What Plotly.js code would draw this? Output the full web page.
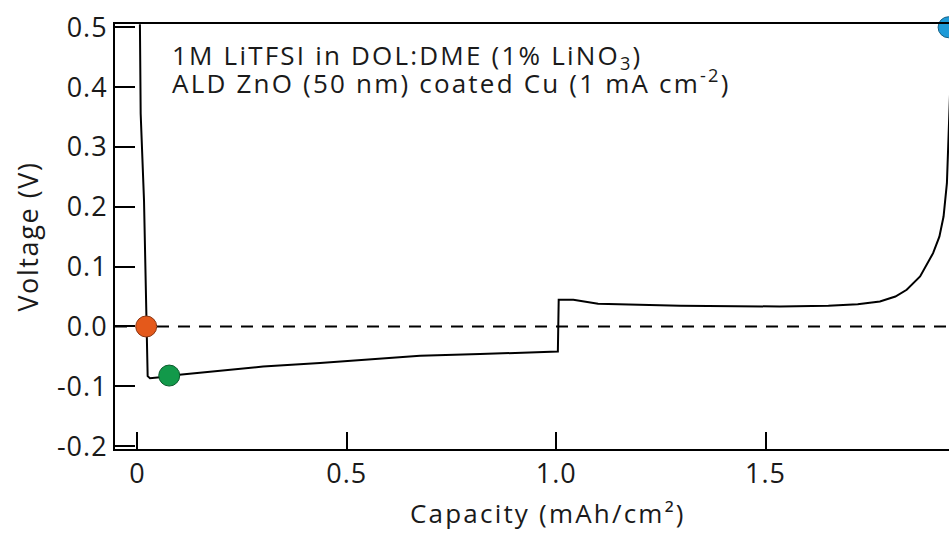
<!DOCTYPE html>
<html>
<head>
<meta charset="utf-8">
<script src="https://cdn.plot.ly/plotly-3.0.1.min.js"></script>
<style>
html, body { margin: 0; padding: 0; background: #fff; }
#chart { width: 949px; height: 533px; }
.annotation-text { letter-spacing: 2.2px; }
.xtick text, .ytick text { letter-spacing: 1px; }
.ytitle { letter-spacing: 1.6px; }
</style>
</head>
<body>
<div id="chart"></div>
<script>
// Galvanostatic curve
const capacity = [0.006, 0.0065, 0.0078, 0.0158, 0.0198, 0.022, 0.0245, 0.030, 0.054, 0.076,
  0.10, 0.20, 0.30, 0.436, 0.55, 0.675, 0.818, 0.90, 1.004,
  1.006, 1.041, 1.10, 1.296, 1.534, 1.65, 1.72, 1.773, 1.81, 1.837, 1.869, 1.90, 1.915, 1.925, 1.933, 1.938, 1.942, 1.945];
const voltage = [0.505, 0.45, 0.356, 0.21, 0.10, 0.0, -0.083, -0.0865, -0.085, -0.082,
  -0.0806, -0.0735, -0.067, -0.061, -0.055, -0.049, -0.046, -0.044, -0.042,
  0.0446, 0.0446, 0.038, 0.0346, 0.0334, 0.0345, 0.037, 0.0417, 0.050, 0.0613, 0.0835, 0.1225, 0.150, 0.1837, 0.2394, 0.323, 0.42, 0.5];

// Highlighted points
const pointCapacity = [0.021, 0.076, 1.937];
const pointVoltage = [0.0, -0.082, 0.5];
const pointColors = ['#E4591B', '#12994A', '#1E9BD8'];
const pointEdges = ['#8a3410', '#0a5a2b', '#135f85'];

// Axis ticks
const xTickVals = [0, 0.5, 1.0, 1.5];
const xTickText = ['0', '0.5', '1.0', '1.5'];
const yTickVals = [-0.2, -0.1, 0.0, 0.1, 0.2, 0.3, 0.4, 0.5];
const yTickText = ['-0.2', '-0.1', '0.0', '0.1', '0.2', '0.3', '0.4', '0.5'];

const xTitle = 'Capacity (mAh/cm²)';
const yTitle = 'Voltage (V)';
const annotationLines = [
  '1M LiTFSI in DOL:DME (1% LiNO<sub>3</sub>)',
  'ALD ZnO (50 nm) coated Cu (1 mA cm<sup>-2</sup>)'
];

const FONT = 'Open Sans, Noto Sans, sans-serif';
const TXT = '#1a1a1a';

const traces = [
  {
    x: capacity, y: voltage, type: 'scatter', mode: 'lines',
    line: { color: '#000', width: 2 }, hoverinfo: 'skip', showlegend: false
  }
];
for (let i = 0; i < pointCapacity.length; i++) {
  traces.push({
    x: [pointCapacity[i]], y: [pointVoltage[i]], type: 'scatter', mode: 'markers',
    marker: { size: 21, color: pointColors[i], line: { color: pointEdges[i], width: 1 } },
    cliponaxis: false, showlegend: false, hoverinfo: 'skip'
  });
}

const layout = {
  width: 949, height: 533,
  margin: { l: 115, r: 0, t: 24, b: 84 },
  paper_bgcolor: '#fff', plot_bgcolor: '#fff',
  font: { family: FONT, size: 27, color: TXT },
  showlegend: false,
  xaxis: {
    range: [-0.0535, 1.938],
    showline: true, linecolor: '#000', linewidth: 2, mirror: true,
    ticks: 'inside', ticklen: 17, tickwidth: 2, tickcolor: '#000',
    tickvals: xTickVals, ticktext: xTickText,
    showgrid: false, zeroline: false,
    tickfont: { family: FONT, size: 27, color: TXT }
  },
  yaxis: {
    range: [-0.2047, 0.5054],
    showline: true, linecolor: '#000', linewidth: 2, mirror: false,
    ticks: 'inside', ticklen: 20, tickwidth: 2, tickcolor: '#000',
    tickvals: yTickVals, ticktext: yTickText,
    showgrid: false, zeroline: false,
    tickfont: { family: FONT, size: 27, color: TXT },
    title: { text: yTitle, font: { family: FONT, size: 27, color: TXT }, standoff: 10 }
  },
  shapes: [
    { type: 'line', xref: 'paper', x0: 0, x1: 1, yref: 'y', y0: 0, y1: 0,
      line: { color: '#000', width: 2, dash: '12px,9px' }, layer: 'below' }
  ],
  annotations: [
    { text: annotationLines[0], xref: 'paper', yref: 'paper', x: 0.066, y: 0.925,
      xanchor: 'left', yanchor: 'middle', showarrow: false, font: { family: FONT, size: 26, color: TXT } },
    { text: annotationLines[1], xref: 'paper', yref: 'paper', x: 0.066, y: 0.864,
      xanchor: 'left', yanchor: 'middle', showarrow: false, font: { family: FONT, size: 26, color: TXT } },
    { text: xTitle, xref: 'paper', yref: 'paper', x: 0.519, y: -0.15,
      xanchor: 'center', yanchor: 'middle', showarrow: false, font: { family: FONT, size: 26, color: TXT } }
  ]
};

Plotly.newPlot('chart', traces, layout, { staticPlot: true, displayModeBar: false });
</script>
</body>
</html>
